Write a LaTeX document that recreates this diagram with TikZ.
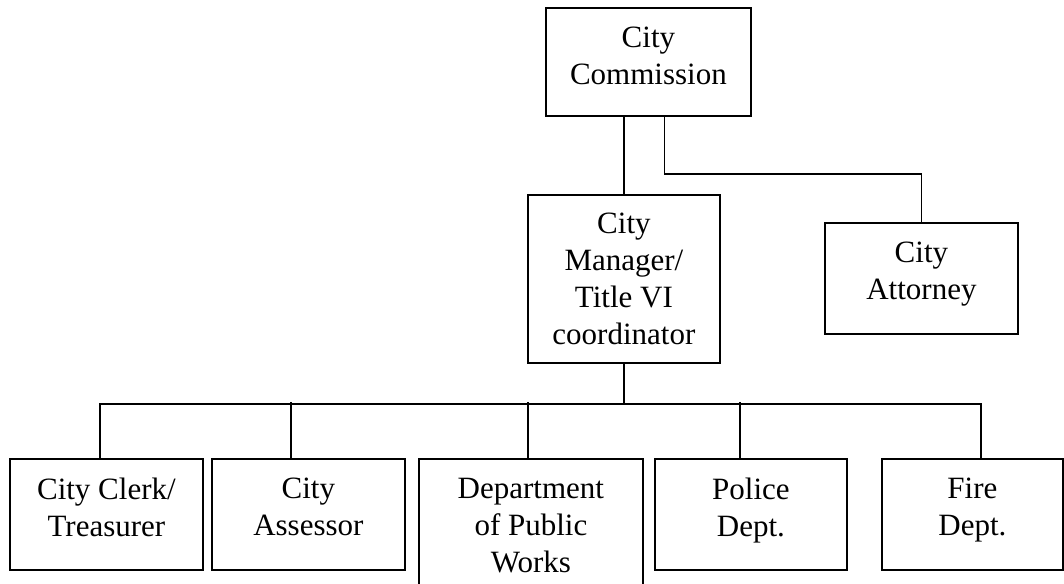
\documentclass[tikz,border=0pt]{standalone}
\usepackage{fontspec}
\setmainfont{Liberation Serif}
\begin{document}
\begin{tikzpicture}[x=1pt,y=-1pt,
  box/.style={draw, line width=1.8pt, inner sep=0pt, anchor=north west},
  txt/.style={align=center, inner sep=0pt, anchor=north, font=\fontsize{31}{37}\selectfont},
  conn/.style={line width=1.8pt}]
\useasboundingbox (0,0) rectangle (1064,583);
% boxes
\node[box, minimum width=205pt, minimum height=108pt] (com) at (545,7) {};
\node[txt] (comt) at ([yshift=-20pt]com.north) {City\\Commission};
\node[box, minimum width=192pt, minimum height=168pt] (man) at (527,194) {};
\node[txt] (mant) at ([yshift=-19pt]man.north) {City\\Manager/\\Title VI\\coordinator};
\node[box, minimum width=193pt, minimum height=111pt] (att) at (824,222) {};
\node[txt] (attt) at ([yshift=-20pt]att.north) {City\\Attorney};
\node[box, minimum width=193pt, minimum height=111pt] (clerk) at (9,458) {};
\node[txt] (clerkt) at ([yshift=-20pt]clerk.north) {City Clerk/\\Treasurer};
\node[box, minimum width=193pt, minimum height=111pt] (asse) at (211,458) {};
\node[txt] (asset) at ([yshift=-20pt]asse.north) {City\\Assessor};
\node[box, minimum width=224pt, minimum height=140pt] (dept) at (418,458) {};
\node[txt] (deptt) at ([yshift=-20pt]dept.north) {Department\\of Public\\Works};
\node[box, minimum width=192pt, minimum height=111pt] (pol) at (654,458) {};
\node[txt] (polt) at ([yshift=-20pt]pol.north) {Police\\Dept.};
\node[box, minimum width=181pt, minimum height=111pt] (fire) at (881,458) {};
\node[txt] (firet) at ([yshift=-20pt]fire.north) {Fire\\Dept.};
% connectors
\draw[conn] (com.south -| man.north) -- (man.north);
\draw[conn] ([xshift=16pt]com.south) -- ++(0,57) -| (att.north);
\draw[conn] (man.south) -- ++(0,40) coordinate (bus);
\draw[conn] ([xshift=-6.5pt]clerk.north) |- (bus) -| ([xshift=8.5pt]fire.north);
\draw[conn] ([xshift=-17.5pt]asse.north) -- ++(0,-56);
\draw[conn] ([xshift=-3pt]dept.north) -- ++(0,-56);
\draw[conn] ([xshift=-11pt]pol.north) -- ++(0,-56);
\end{tikzpicture}
\end{document}
